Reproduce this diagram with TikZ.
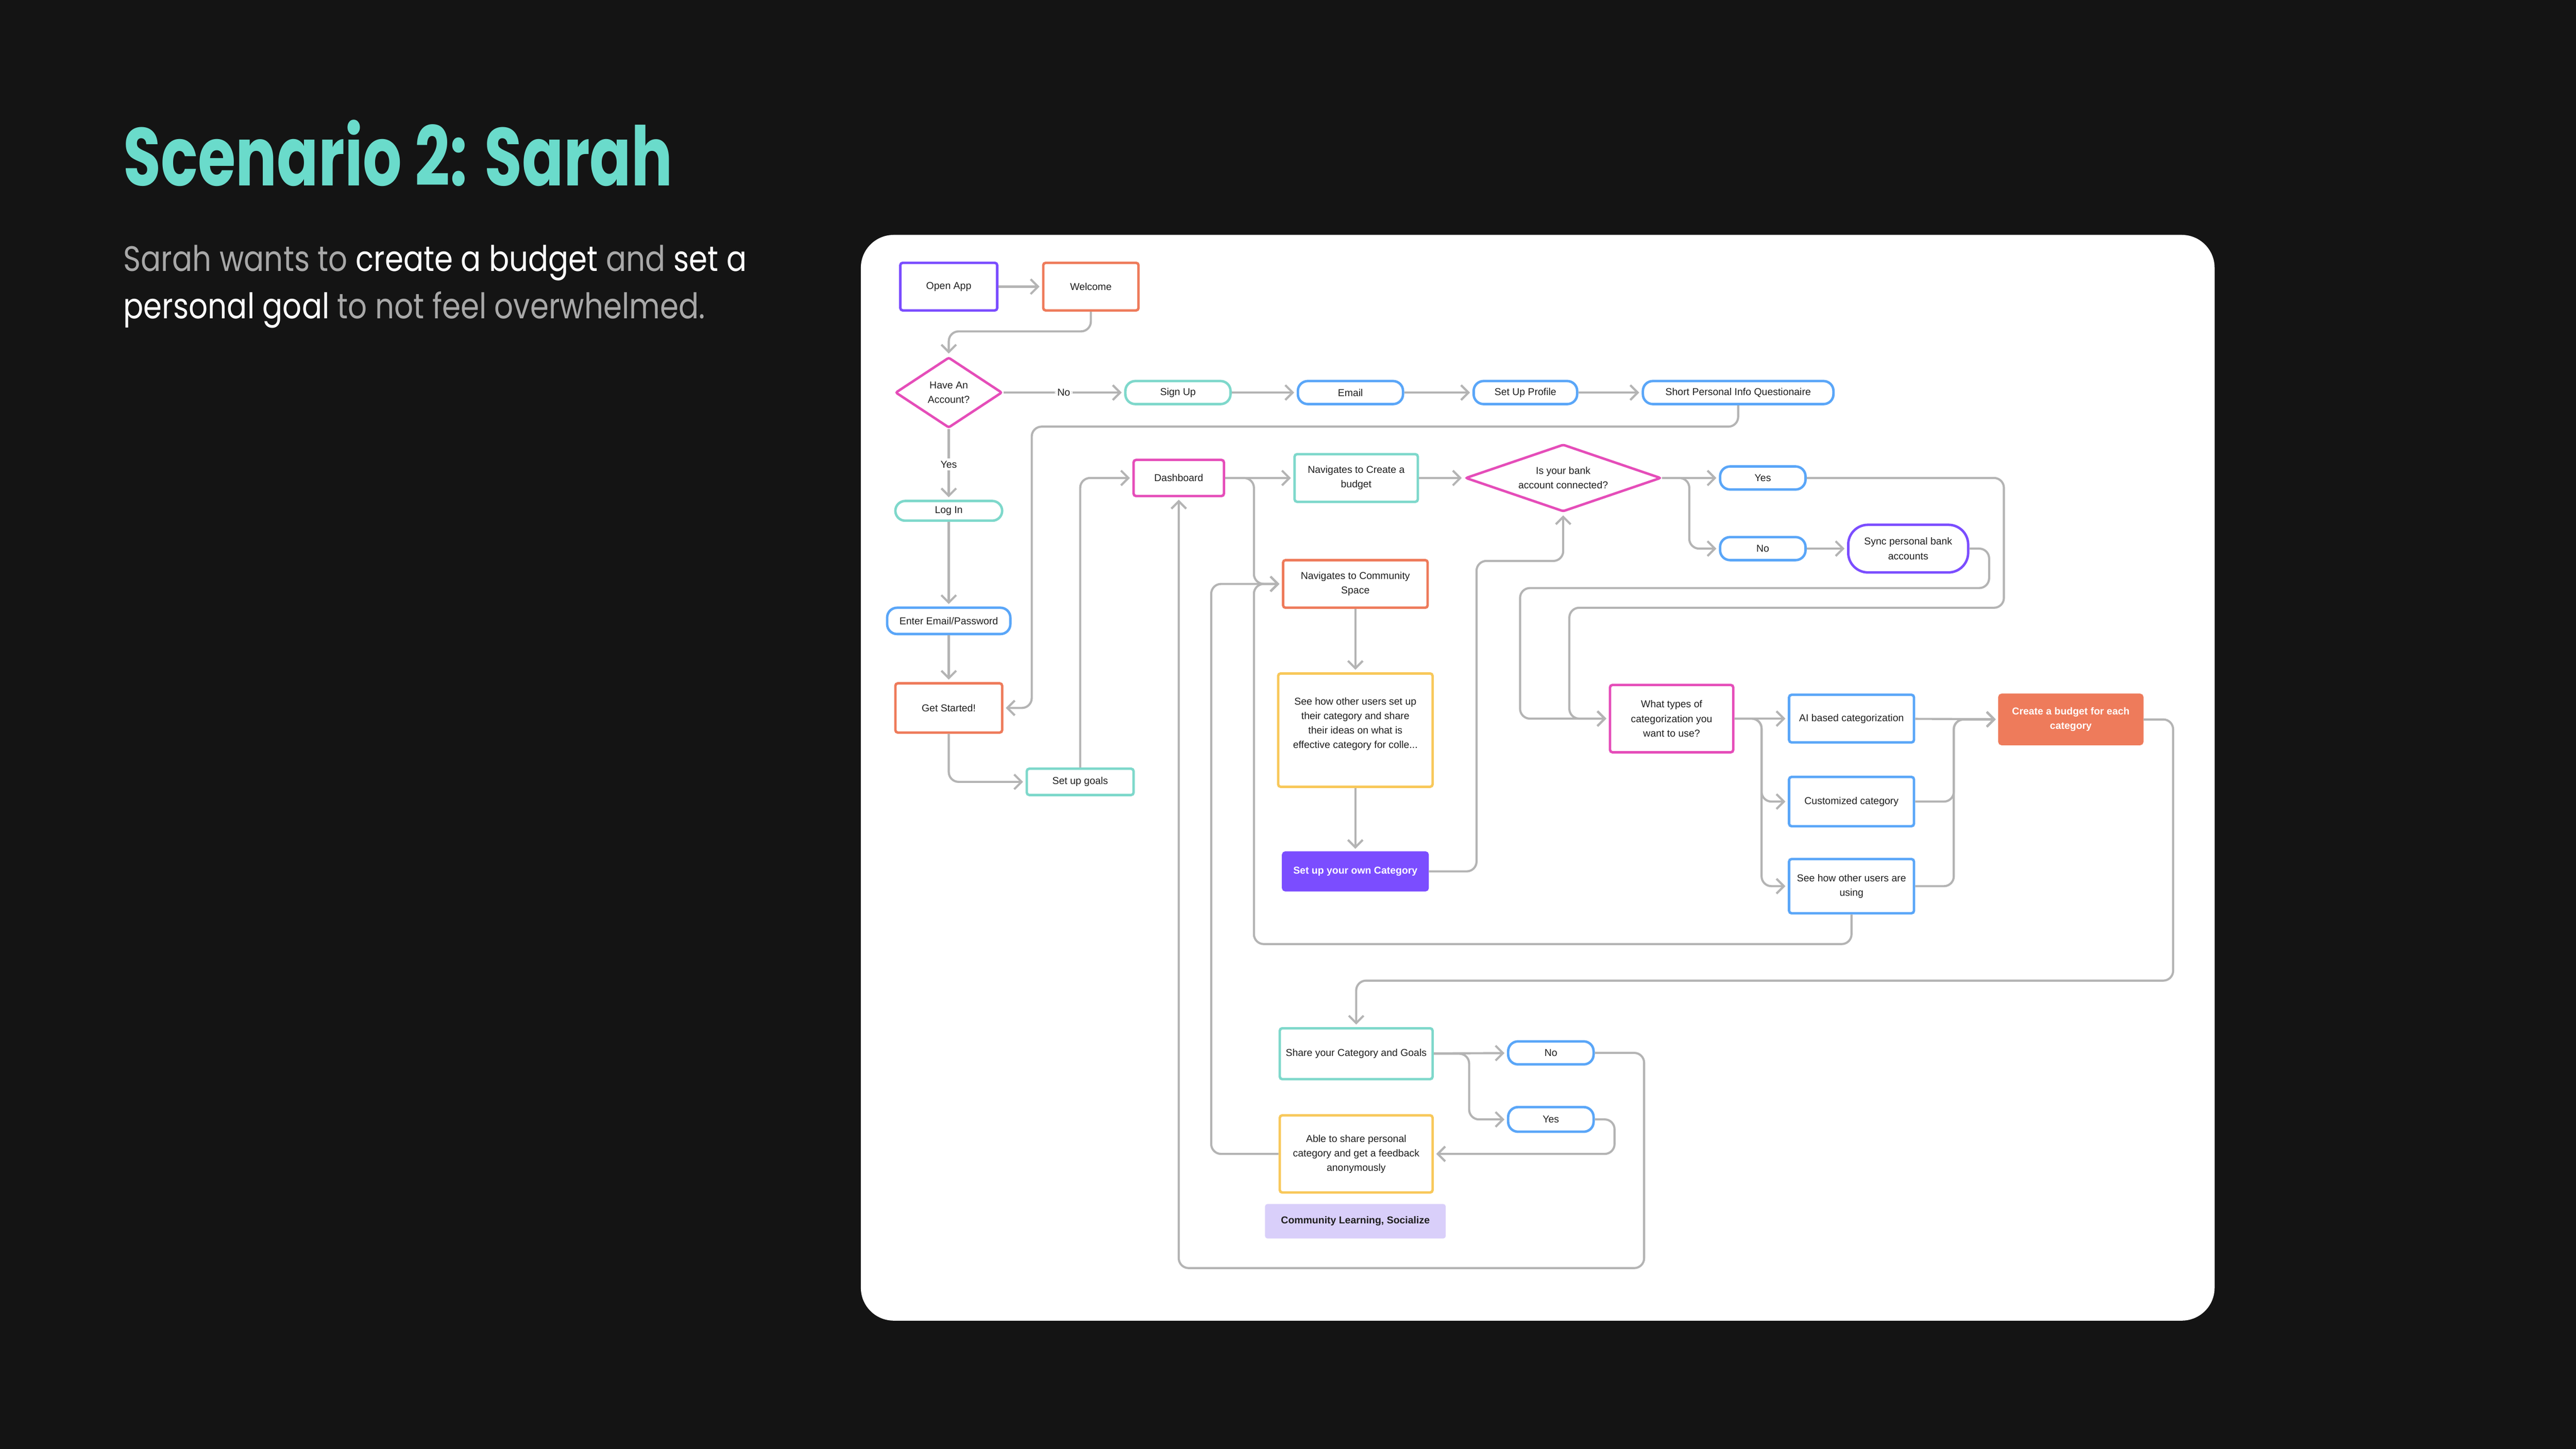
\documentclass[tikz,border=0pt]{standalone}
\usepackage{fontspec}
\usepackage{graphicx}
\setmainfont{Liberation Sans}
\newfontfamily\ttlfont{Poppins}
\usetikzlibrary{shapes.geometric,arrows.meta}
\definecolor{bgc}{HTML}{141414}
\definecolor{ttl}{HTML}{6ADBCB}
\definecolor{sgr}{HTML}{A8A8A8}
\definecolor{ink}{HTML}{1F1F1F}
\definecolor{lgr}{HTML}{B4B4B4}
\definecolor{pur}{HTML}{7B4DFF}
\definecolor{orn}{HTML}{EE7B5B}
\definecolor{pnk}{HTML}{E54DB9}
\definecolor{tel}{HTML}{7ED8CB}
\definecolor{blu}{HTML}{5AA6F8}
\definecolor{ylw}{HTML}{F8C85A}
\definecolor{lav}{HTML}{D9CFFA}
\begin{document}
\begin{tikzpicture}[x=1pt,y=-1pt, font=\fontsize{6.1}{8.8}\selectfont,
 sz/.style 2 args={minimum width=#1,minimum height=#2},
 bx/.style={draw=#1, fill=white, line width=1.5pt, rounded corners=1.5pt, inner sep=0pt, align=center, text=ink},
 pl/.style={bx=#1, rounded corners=6pt},
 dm/.style={bx=pnk, diamond, rounded corners=1pt},
 fl/.style={bx=#1, fill=#1, text=white, font=\fontsize{6.1}{8.8}\selectfont\bfseries},
 ar/.style={draw=lgr, line width=1.3pt, rounded corners=6pt, -{Straight Barb[length=4.5pt,width=9pt]}, shorten >=1.5pt},
 lb/.style={fill=white, inner sep=1.5pt, text=ink}]
\useasboundingbox (0,0) rectangle (1568,882);
\fill[bgc] (0,0) rectangle (1568,882);
\fill[white, rounded corners=20pt] (524,143) rectangle (1348,804);
% heading
\node[anchor=base west, inner sep=0, text=ttl] (ttl) at (75,113) {\scalebox{.745}[1]{\ttlfont\fontsize{50}{50}\selectfont\bfseries Scenario 2: Sarah}};
\node[anchor=base west, inner sep=0] (sub1) at (75,165) {\scalebox{.845}[1]{\ttlfont\fontsize{21.5}{26}\selectfont\color{sgr}Sarah wants to \color{white}create a budget \color{sgr}and \color{white}set a}};
\node[anchor=base west, inner sep=0] (sub2) at (75,194) {\scalebox{.845}[1]{\ttlfont\fontsize{21.5}{26}\selectfont\color{white}personal goal \color{sgr}to not feel overwhelmed.}};
% login column
\path (577.5,174.5) node[bx=pur, sz={59}{29}] (open) {Open App}
 (664,174.5) node[bx=orn, sz={58}{29}] (wel) {Welcome}
 (577.5,239) node[dm, aspect=1.5, sz={65}{43}] (acc) {Have An\\Account?}
 (577.5,311) node[pl=tel, sz={65}{12}] (login) {Log In}
 (577.5,378) node[pl=blu, sz={75}{16}] (pass) {Enter Email/Password}
 (577.5,431) node[bx=orn, sz={65}{30}] (start) {Get Started!}
 (657.5,476) node[bx=tel, sz={65}{16}] (goal) {Set up goals};
% sign up row
\path (717,239) node[pl=tel, sz={64}{14}] (sign) {Sign Up}
 (822,239) node[pl=blu, sz={64}{14}] (mail) {Email}
 (928.5,239) node[pl=blu, sz={63}{14}] (prof) {Set Up Profile}
 (1058,239) node[pl=blu, sz={116}{14}] (quest) {Short Personal Info Questionaire};
% dashboard and bank
\path (717.5,291) node[bx=pnk, sz={55}{22}] (dash) {Dashboard}
 (825.5,291) node[bx=tel, sz={75}{29}] (nbud) {Navigates to Create a\\budget}
 (951.5,291) node[dm, aspect=2.9, sz={119}{41}] (bank) {Is your bank\\account connected?}
 (1073,291) node[pl=blu, sz={52}{14}] (yes1) {Yes}
 (1073,334) node[pl=blu, sz={52}{14}] (no1) {No}
 (1161.5,334) node[bx=pur, rounded corners=12pt, sz={73}{29}] (sync) {Sync personal bank\\accounts};
% community
\path (825,355.5) node[bx=orn, sz={88}{29}] (comm) {Navigates to Community\\Space}
 (825,444.5) node[bx=ylw, sz={94}{69}] (see) {See how other users set up\\their category and share\\their ideas on what is\\effective category for colle...\\ \mbox{}}
 (825,530.5) node[fl=pur, sz={88}{23}] (own) {Set up your own Category};
% categories
\path (1017.5,437.5) node[bx=pnk, sz={75}{41}] (what) {What types of\\categorization you\\want to use?}
 (1127,437.5) node[bx=blu, sz={76}{29}] (ai) {AI based categorization}
 (1127,488) node[bx=blu, sz={76}{30}] (cust) {Customized category}
 (1127,539.5) node[bx=blu, sz={76}{33}] (suse) {See how other users are\\using}
 (1260.5,438) node[fl=orn, sz={87}{30}] (cbud) {Create a budget for each\\category};
% sharing
\path (825.5,641.5) node[bx=tel, sz={93}{31}] (share) {Share your Category and Goals}
 (944,641) node[pl=blu, sz={52}{14}] (sno) {No}
 (944,681.5) node[pl=blu, sz={52}{15}] (syes) {Yes}
 (825.5,702.5) node[bx=ylw, sz={93}{47}] (able) {Able to share personal\\category and get a feedback\\anonymously}
 (825,743.5) node[fl=lav, draw=none, text=ink, sz={110}{21}] (soc) {Community Learning, Socialize};
% connectors
\foreach \a/\b in {open/wel, sign/mail, mail/prof, prof/quest, login/pass, pass/start, dash/nbud, nbud/bank, bank/yes1, no1/sync, comm/see, see/own, what/ai, ai/cbud, share/sno}
 \draw[ar] (\a) -- (\b);
\draw[ar] (wel.south) -- ++(0,12) -| (acc.north);
\draw[ar] (acc.east) -- node[lb]{No} (sign.west);
\draw[ar] (acc.south) -- node[lb]{Yes} (login.north);
\draw[ar] (quest.south) |- ++(-430,13) |- (start.east);
\draw[ar] (start.south) |- (goal.west);
\draw[ar] (goal.north) |- (dash.west);
\draw[ar] (dash.east) -| ([xshift=-17pt]comm.west) -- (comm.west);
\draw[ar] (suse.south) -- ++(0,18) -| ([xshift=-17pt]comm.west) -- (comm.west);
\draw[ar] (able.west) -| ([xshift=-43pt]comm.west) -- (comm.west);
\draw[ar] (sno.east) -| ++(30,131) -| (dash.south);
\draw[ar] (bank.east) -| ([xshift=-18pt]no1.west) -- (no1.west);
\draw[ar] (yes1.east) -| ++(120,79) -| ([xshift=-24pt]what.west) -- (what.west);
\draw[ar] (sync.east) -| ++(12,24) -| ([xshift=-54pt]what.west) -- (what.west);
\draw[ar] (own.east) -| ++(29,-189) -| (bank.south);
\foreach \c in {cust, suse} {
 \draw[ar] (what.east) -| ([xshift=-16pt]\c.west) -- (\c.west);
 \draw[ar] (\c.east) -| ([xshift=-27pt]cbud.west) -- (cbud.west);
}
\draw[ar] (cbud.east) -| ++(18,159) -| (share.north);
\draw[ar] (share.east) -| ([xshift=-23pt]syes.west) -- (syes.west);
\draw[ar] (syes.east) -| ++(12,21) -- (able.east);
\end{tikzpicture}
\end{document}
